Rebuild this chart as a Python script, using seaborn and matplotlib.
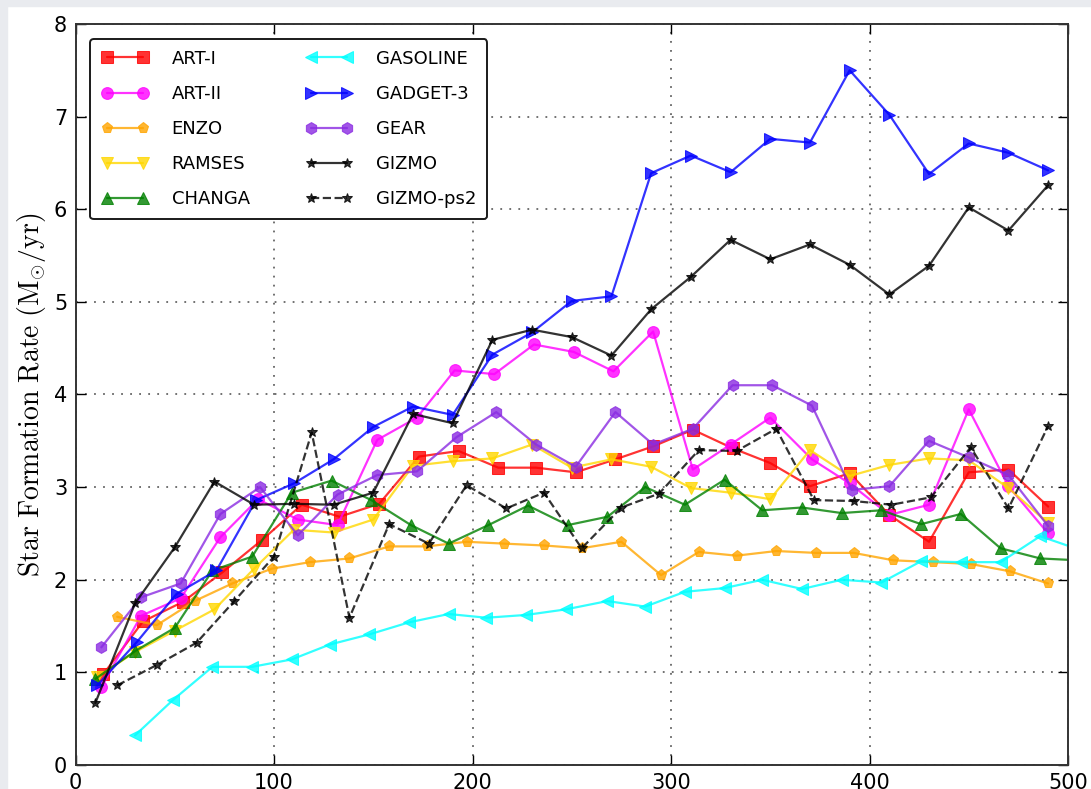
import pandas as pd
import numpy as np
import matplotlib
matplotlib.use('Agg')
import matplotlib.pyplot as plt
import seaborn as sns
from matplotlib.patches import Rectangle

# time (Myr) and star formation rate (Msun/yr)
art1_t = [14, 34, 54, 74, 94, 114, 133, 153, 173, 193, 213, 232, 252, 272, 291, 311, 331, 350, 370, 390, 410, 430, 450, 470, 490]
art1_sfr = [0.98, 1.55, 1.76, 2.08, 2.43, 2.81, 2.68, 2.82, 3.33, 3.39, 3.21, 3.21, 3.16, 3.30, 3.44, 3.62, 3.42, 3.26, 3.01, 3.15, 2.70, 2.41, 3.16, 3.19, 2.79]

art2_t = [13, 33, 53, 73, 92, 112, 132, 152, 172, 191, 211, 231, 251, 271, 291, 311, 330, 350, 371, 390, 410, 430, 450, 470, 490]
art2_sfr = [0.84, 1.61, 1.80, 2.46, 2.87, 2.65, 2.59, 3.51, 3.75, 4.26, 4.22, 4.54, 4.46, 4.25, 4.68, 3.19, 3.46, 3.75, 3.30, 3.04, 2.70, 2.81, 3.84, 3.01, 2.50]

enzo_t = [21, 41, 60, 79, 99, 118, 138, 158, 177, 197, 216, 236, 255, 275, 295, 314, 333, 353, 373, 392, 412, 432, 451, 471, 490]
enzo_sfr = [1.60, 1.51, 1.77, 1.96, 2.12, 2.19, 2.23, 2.36, 2.36, 2.41, 2.39, 2.37, 2.34, 2.41, 2.05, 2.30, 2.26, 2.31, 2.29, 2.29, 2.21, 2.19, 2.17, 2.09, 1.96]

ramses_t = [11, 30, 50, 70, 90, 110, 130, 150, 170, 190, 210, 230, 250, 270, 290, 310, 330, 350, 370, 390, 410, 430, 450, 470, 490]
ramses_sfr = [0.95, 1.22, 1.45, 1.68, 2.12, 2.54, 2.51, 2.65, 3.23, 3.28, 3.31, 3.46, 3.21, 3.30, 3.22, 2.99, 2.94, 2.87, 3.40, 3.12, 3.24, 3.31, 3.29, 2.99, 2.61]

changa_t = [10, 30, 50, 69, 89, 109, 129, 149, 169, 188, 208, 228, 248, 268, 287, 307, 327, 346, 366, 386, 406, 426, 446, 466, 486, 505]
changa_sfr = [0.93, 1.23, 1.48, 2.10, 2.25, 2.94, 3.07, 2.86, 2.59, 2.39, 2.59, 2.80, 2.59, 2.68, 3.00, 2.81, 3.08, 2.75, 2.78, 2.72, 2.75, 2.60, 2.71, 2.34, 2.23, 2.21]

gasoline_t = [30, 49, 69, 89, 109, 128, 148, 168, 188, 207, 227, 247, 268, 287, 307, 327, 346, 366, 386, 406, 426, 446, 466, 486, 505]
gasoline_sfr = [0.32, 0.70, 1.06, 1.06, 1.14, 1.30, 1.41, 1.54, 1.63, 1.59, 1.62, 1.68, 1.77, 1.71, 1.87, 1.91, 2.00, 1.90, 2.00, 1.97, 2.20, 2.19, 2.19, 2.47, 2.33]

gadget_t = [11, 31, 51, 71, 91, 110, 130, 150, 170, 190, 210, 230, 250, 270, 290, 310, 330, 350, 370, 390, 410, 430, 450, 470, 490]
gadget_sfr = [0.86, 1.33, 1.85, 2.10, 2.86, 3.04, 3.30, 3.65, 3.87, 3.78, 4.43, 4.67, 5.01, 5.06, 6.39, 6.58, 6.40, 6.76, 6.72, 7.50, 7.02, 6.38, 6.71, 6.61, 6.42]

gear_t = [13, 33, 53, 73, 93, 112, 132, 152, 172, 192, 212, 232, 252, 272, 291, 311, 331, 351, 371, 391, 410, 430, 450, 470, 490]
gear_sfr = [1.27, 1.81, 1.96, 2.71, 3.00, 2.48, 2.92, 3.13, 3.17, 3.54, 3.81, 3.46, 3.22, 3.81, 3.46, 3.63, 4.10, 4.10, 3.88, 2.97, 3.01, 3.50, 3.32, 3.13, 2.58]

gizmo_t = [10, 30, 50, 70, 90, 110, 130, 150, 170, 190, 210, 230, 250, 270, 290, 310, 330, 350, 370, 390, 410, 430, 450, 470, 490]
gizmo_sfr = [0.67, 1.745, 2.35, 3.06, 2.81, 2.82, 2.81, 2.94, 3.79, 3.69, 4.59, 4.70, 4.62, 4.42, 4.92, 5.27, 5.67, 5.46, 5.62, 5.40, 5.08, 5.39, 6.02, 5.77, 6.26]

ps2_t = [21, 41, 61, 80, 100, 119, 138, 158, 178, 197, 217, 236, 255, 275, 294, 314, 333, 353, 372, 392, 411, 431, 451, 470, 490]
ps2_sfr = [0.86, 1.08, 1.32, 1.77, 2.25, 3.59, 1.59, 2.60, 2.39, 3.02, 2.77, 2.94, 2.34, 2.78, 2.93, 3.40, 3.39, 3.63, 2.86, 2.85, 2.81, 2.89, 3.43, 2.77, 3.66]

codes = ['ART-I', 'ART-II', 'ENZO', 'RAMSES', 'CHANGA', 'GASOLINE', 'GADGET-3', 'GEAR', 'GIZMO', 'GIZMO-ps2']
times = [art1_t, art2_t, enzo_t, ramses_t, changa_t, gasoline_t, gadget_t, gear_t, gizmo_t, ps2_t]
sfrs = [art1_sfr, art2_sfr, enzo_sfr, ramses_sfr, changa_sfr, gasoline_sfr, gadget_sfr, gear_sfr, gizmo_sfr, ps2_sfr]
colors = ['red', 'magenta', 'orange', 'gold', 'green', 'cyan', 'blue', 'blueviolet', 'black', 'black']
markers = ['s', 'o', 'p', 'v', '^', '<', '>', 'h', '*', '*']
msizes = [8.5, 8.5, 8, 9, 9, 9, 9, 8.5, 7.5, 7.5]
styles = ['-'] * 9 + ['--']

rows = []
for c, t, s in zip(codes, times, sfrs):
    for ti, si in zip(t, s):
        rows.append((c, ti, si))
df = pd.DataFrame(rows, columns=['code', 'time', 'sfr'])

sns.set_style('white')
plt.rcParams['font.family'] = ['DejaVu Sans']
plt.rcParams['mathtext.fontset'] = 'cm'
plt.rcParams['text.color'] = 'black'
plt.rcParams['axes.labelcolor'] = 'black'
plt.rcParams['xtick.color'] = 'black'
plt.rcParams['ytick.color'] = 'black'

fig = plt.figure(figsize=(10.91, 7.89), dpi=100)
fig.patches.append(Rectangle((0, 0), 7 / 1091, 1, transform=fig.transFigure, color='#e9ebef', zorder=-1))
fig.patches.append(Rectangle((0, 1 - 6 / 789), 1, 6 / 789, transform=fig.transFigure, color='#e9ebef', zorder=-1))
ax = fig.add_axes([75.5 / 1091, 24 / 789, 992.5 / 1091, 741 / 789])

for i, c in enumerate(codes):
    sub = df[df.code == c]
    sns.lineplot(data=sub, x='time', y='sfr', ax=ax, color=colors[i], marker=markers[i],
                 markersize=msizes[i], markeredgecolor=colors[i], linestyle=styles[i],
                 linewidth=1.6, alpha=0.8, label=c, sort=False, estimator=None)

ax.set_xlim(0, 500)
ax.set_ylim(0, 8)
ax.set_xlabel('')
ax.set_ylabel(r'$\rm Star\ Formation\ Rate\ (M_{\odot}/yr)$', fontsize=20)
ax.grid(True, color='0.4', linestyle=(0, (1, 4)), linewidth=1.3)
ax.tick_params(direction='in', length=7, width=1, labelsize=15, top=True, right=True,
               bottom=True, left=True, pad=6)
for sp in ax.spines.values():
    sp.set_linewidth(1.4)
    sp.set_color('0.2')

leg = ax.legend(ncol=2, loc='upper left', numpoints=2, fontsize=13, handlelength=2.6,
                handletextpad=1.3, columnspacing=3.1, labelspacing=0.95, borderpad=0.6,
                fancybox=True, frameon=True, bbox_to_anchor=(0.006, 0.992))
leg.get_frame().set_edgecolor('0.1')
leg.get_frame().set_linewidth(1.4)
leg.get_frame().set_alpha(1)

plt.savefig('out.png', dpi=100)
